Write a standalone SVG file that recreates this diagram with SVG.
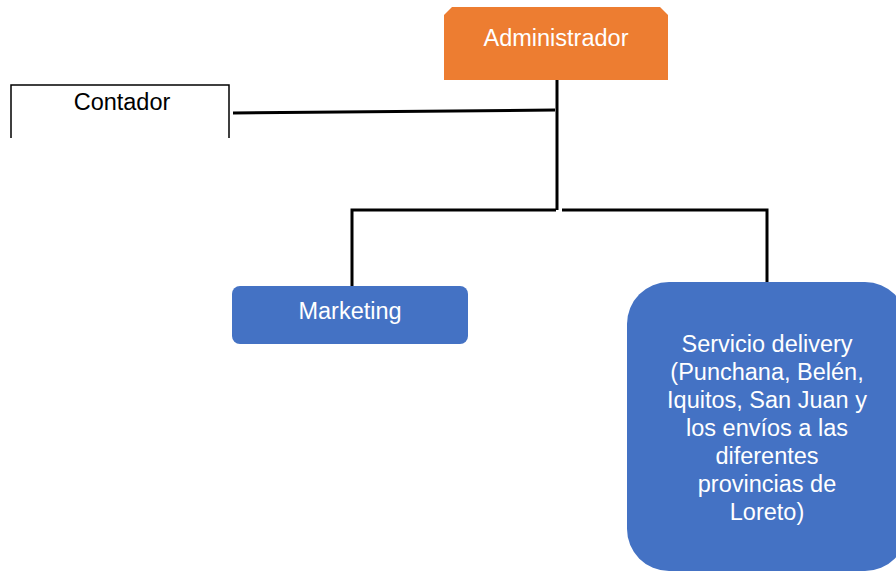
<svg xmlns="http://www.w3.org/2000/svg" width="896" height="572" viewBox="0 0 896 572">
<style>
.t{font-family:"Liberation Sans",Arial,sans-serif;font-size:23.5px;text-anchor:middle}
.w{fill:#ffffff}
.c{fill:none;stroke:#000;stroke-width:3;stroke-linecap:butt}
</style>
<rect width="896" height="572" fill="#fff"/>
<g id="connectors">
<path class="c" d="M233 113 L555 110"/>
<path class="c" d="M557 80 V210"/>
<path class="c" d="M352 288 V210 H556"/>
<path class="c" d="M562 210 H767 V287"/>
</g>
<g id="administrador">
<path d="M452 7 H660 L668 15 V80 H444 V15 Z" fill="#ED7D31"/>
<text class="t w" x="556" y="46">Administrador</text>
</g>
<g id="contador">
<path d="M11 138 V85 H229 V138" fill="none" stroke="#000" stroke-width="1.5"/>
<text class="t" x="122" y="110" fill="#000">Contador</text>
</g>
<g id="marketing">
<rect x="232" y="286" width="236" height="58" rx="8" fill="#4472C4"/>
<text class="t w" x="350" y="319">Marketing</text>
</g>
<g id="servicio">
<rect x="627" y="282" width="280" height="289" rx="42" fill="#4472C4"/>
<text class="t w" x="767" y="352">Servicio delivery</text>
<text class="t w" x="767" y="380">(Punchana, Belén,</text>
<text class="t w" x="767" y="408">Iquitos, San Juan y</text>
<text class="t w" x="767" y="436">los envíos a las</text>
<text class="t w" x="767" y="464">diferentes</text>
<text class="t w" x="767" y="492">provincias de</text>
<text class="t w" x="767" y="520">Loreto)</text>
</g>
</svg>
